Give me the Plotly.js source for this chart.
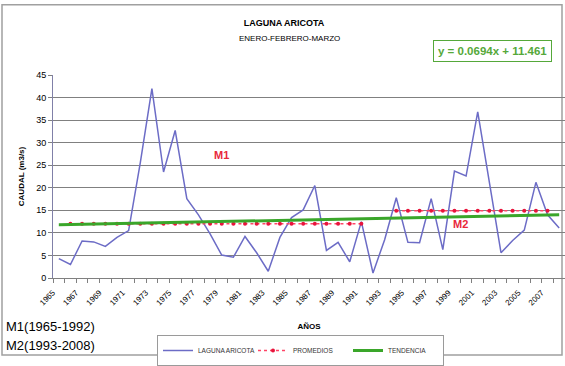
<!DOCTYPE html>
<html>
<head>
<meta charset="utf-8">
<script src="https://cdn.plot.ly/plotly-3.0.1.min.js"></script>
<style>html,body{margin:0;padding:0;background:#fff;}#chart{width:565px;height:366px;}</style>
</head>
<body>
<div id="chart"></div>
<script>
// ---- data ----
var years = [1965,1966,1967,1968,1969,1970,1971,1972,1973,1974,
             1975,1976,1977,1978,1979,1980,1981,1982,1983,1984,
             1985,1986,1987,1988,1989,1990,1991,1992,1993,1994,
             1995,1996,1997,1998,1999,2000,2001,2002,2003,2004,
             2005,2006,2007,2008];
var caudal = [4.3,3.0,8.2,8.0,7.0,9.0,10.5,25.5,42.0,23.5,
              32.7,17.6,14.0,9.8,5.1,4.6,9.2,5.6,1.5,9.0,
              13.4,15.1,20.5,6.1,7.9,3.6,12.5,1.1,8.5,17.8,
              7.9,7.8,17.6,6.3,23.7,22.6,36.8,21.0,5.6,8.3,
              10.6,21.2,14.0,11.1];
var m1Years = [1966,1967,1968,1969,1970,1971,1972,1973,1974,1975,1976,1977,1978,
               1979,1980,1981,1982,1983,1984,1985,1986,1987,1988,1989,1990,1991];
var m1Value = 12.0;
var m2Years = [1994,1995,1996,1997,1998,1999,2000,2001,2002,2003,2004,2005,2006,2007];
var m2Value = 14.9;
var trendYears = [1965, 2008];
var trendValues = [11.8, 14.0];
var tickYears = [1965,1967,1969,1971,1973,1975,1977,1979,1981,1983,1985,
                 1987,1989,1991,1993,1995,1997,1999,2001,2003,2005,2007];
var yTicks = [0,5,10,15,20,25,30,35,40,45];

// promedios: two segments separated by a gap
var promX = m1Years.concat([null]).concat(m2Years);
var promY = m1Years.map(function(){return m1Value;}).concat([null]).concat(m2Years.map(function(){return m2Value;}));

var FONT = 'Liberation Sans, Arial, sans-serif';

var traces = [
  {x: years, y: caudal, type: 'scatter', mode: 'lines', name: 'LAGUNA ARICOTA',
   line: {color: '#6c6cc6', width: 1.5}},
  {x: promX, y: promY, type: 'scatter', mode: 'lines+markers', name: 'PROMEDIOS',
   connectgaps: false,
   line: {color: '#ff4466', width: 1.5, dash: 'dot'},
   marker: {color: '#e8143c', size: 4}},
  {x: trendYears, y: trendValues, type: 'scatter', mode: 'lines', name: 'TENDENCIA',
   line: {color: '#3aa62a', width: 3}}
];

// paper coordinate helpers (plot area: x 53..565, y 75..283 px)
function px(v){return (v-53)/512;}
function py(v){return (283-v)/208;}

var layout = {
  width: 565, height: 366,
  margin: {l: 53, r: 0, t: 75, b: 83, pad: 0},
  paper_bgcolor: '#ffffff', plot_bgcolor: '#ffffff',
  font: {family: FONT, color: '#000'},
  showlegend: true,
  title: {text: '<b>LAGUNA ARICOTA</b>', x: 284/565, xanchor: 'center', y: 1-23/366, yanchor: 'middle',
          font: {family: FONT, size: 9, color: '#000'}},
  xaxis: {
    range: [1964.5, 2008.5], tickmode: 'array', tickvals: tickYears, ticktext: tickYears.map(String),
    tickangle: -45, ticks: '', showgrid: false, zeroline: false,
    showline: true, linecolor: '#808080', linewidth: 1,
    ticklabelshift: -6, ticklabelstandoff: 6,
    tickfont: {family: FONT, size: 8, color: '#000'},
    minor: {tick0: 1964.5, dtick: 1, ticks: 'outside', ticklen: 4, tickcolor: '#808080', showgrid: false},
    title: {text: '<b>AÑOS</b>', font: {family: FONT, size: 8, color: '#000'}, standoff: 16}
  },
  yaxis: {
    range: [0, 45], tickmode: 'array', tickvals: yTicks, ticks: 'outside', ticklen: 4,
    tickcolor: '#808080', showgrid: true, gridcolor: '#808080', gridwidth: 1,
    zeroline: false, showline: true, linecolor: '#8080a8', linewidth: 1,
    tickfont: {family: FONT, size: 9, color: '#000'},
    title: {text: '<b>CAUDAL (m3/s)</b>', font: {family: FONT, size: 8, color: '#000'}, standoff: 10}
  },
  legend: {
    orientation: 'h', x: px(157), xanchor: 'left', y: py(342), yanchor: 'top',
    bordercolor: '#9a9a9a', borderwidth: 1, bgcolor: '#ffffff',
    font: {family: FONT, size: 6.5, color: '#333'},
    itemwidth: 30, entrywidth: 50, entrywidthmode: 'pixels', tracegroupgap: 0
  },
  annotations: [
    {xref: 'paper', yref: 'paper', x: px(289), y: py(38), text: 'ENERO-FEBRERO-MARZO', showarrow: false,
     font: {family: FONT, size: 8, color: '#000'}, xanchor: 'center', yanchor: 'middle'},
    {xref: 'paper', yref: 'paper', x: px(492), y: py(50), text: '<b>y = 0.0694x + 11.461</b>', showarrow: false,
     font: {family: FONT, size: 11.5, color: '#55a83a'}, bordercolor: '#55a83a', borderwidth: 1, borderpad: 4,
     bgcolor: '#ffffff', xanchor: 'center', yanchor: 'middle'},
    {xref: 'paper', yref: 'paper', x: px(221), y: py(157), text: '<b>M1</b>', showarrow: false,
     font: {family: FONT, size: 11, color: '#e8283c'}, xanchor: 'center', yanchor: 'middle'},
    {xref: 'paper', yref: 'paper', x: px(460), y: py(228), text: '<b>M2</b>', showarrow: false,
     font: {family: FONT, size: 11, color: '#e8283c'}, xanchor: 'center', yanchor: 'middle'},
    {xref: 'paper', yref: 'paper', x: px(4), y: py(333), text: 'M1(1965-1992)', showarrow: false,
     font: {family: FONT, size: 13, color: '#000'}, xanchor: 'left', yanchor: 'middle'},
    {xref: 'paper', yref: 'paper', x: px(4), y: py(352), text: 'M2(1993-2008)', showarrow: false,
     font: {family: FONT, size: 13, color: '#000'}, xanchor: 'left', yanchor: 'middle'}
  ],
  shapes: [
    {type: 'rect', xref: 'paper', yref: 'paper', x0: px(2), x1: px(562), y0: py(362), y1: py(3),
     line: {color: '#a0a0a0', width: 1.5}, fillcolor: 'rgba(0,0,0,0)', layer: 'below'}
  ]
};

Plotly.newPlot('chart', traces, layout, {staticPlot: true, displayModeBar: false});
</script>
</body>
</html>
